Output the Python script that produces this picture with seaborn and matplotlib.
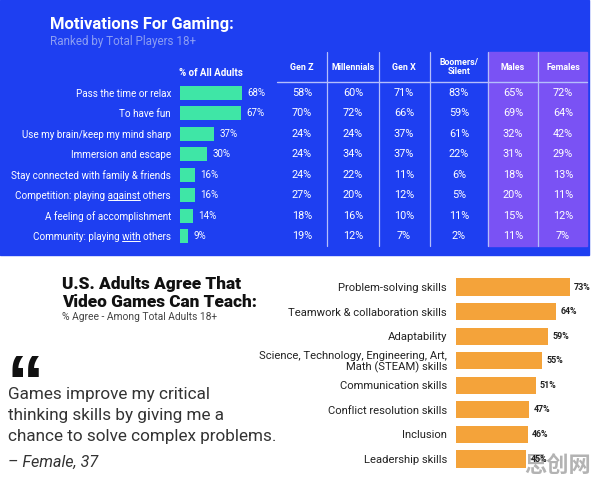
import matplotlib
matplotlib.use("Agg")
import matplotlib.pyplot as plt
from matplotlib.patches import Rectangle
import seaborn as sns
import pandas as pd

# ---------------- data ----------------
motivations = ["Pass the time or relax", "To have fun", "Use my brain/keep my mind sharp",
               "Immersion and escape", "Stay connected with family & friends",
               "Competition: playing against others", "A feeling of accomplishment",
               "Community: playing with others"]
underlined = {"Competition: playing against others": "Competition: playing against",
              "Community: playing with others": "Community: playing with"}
all_adults = [68, 67, 37, 30, 16, 16, 14, 9]
columns = ["Gen Z", "Millennials", "Gen X", "Boomers/\nSilent", "Males", "Females"]
gen_z = [58, 70, 24, 24, 24, 27, 18, 19]
millennials = [60, 72, 24, 34, 22, 20, 16, 12]
gen_x = [71, 66, 37, 37, 11, 12, 10, 7]
boomers = [83, 59, 61, 22, 6, 5, 11, 2]
males = [65, 69, 32, 31, 18, 20, 15, 11]
females = [72, 64, 42, 29, 13, 11, 12, 7]

skills = ["Problem-solving skills", "Teamwork & collaboration skills", "Adaptability",
          "Science, Technology, Engineering, Art,\nMath (STEAM) skills", "Communication skills",
          "Conflict resolution skills", "Inclusion", "Leadership skills"]
agree = [73, 64, 59, 55, 51, 47, 46, 45]

# ---------------- style ----------------
sns.set_theme(style="white")
plt.rcParams["font.family"] = ["Roboto", "DejaVu Sans"]

BLUE = "#1e3ff1"
PURPLE = "#7a52f4"
MINT = "#3fe6a6"
ORANGE = "#f4a33a"
LINE = "#b4befc"
SUB = "#8c9ef3"

W, H = 596, 486
fig = plt.figure(figsize=(W / 100, H / 100), dpi=100)
fig.patch.set_facecolor("white")


def ax_px(x0, y0, x1, y1):
    return fig.add_axes([x0 / W, 1 - y1 / H, (x1 - x0) / W, (y1 - y0) / H])


bg = ax_px(0, 0, W, H)
bg.set_xlim(0, W)
bg.set_ylim(H, 0)
bg.axis("off")

# top panel background
bg.add_patch(Rectangle((0, 0), 589, 255, color=BLUE, zorder=0))
bg.add_patch(Rectangle((488, 52), 99, 194, color=PURPLE, zorder=1))
bg.plot([277, 587], [82, 82], color=LINE, lw=1.0, zorder=2)
for xv in [327, 379, 430, 488, 538]:
    bg.plot([xv, xv], [52, 246], color=LINE, lw=0.9, zorder=2)

bg.text(50, 25, "Motivations For Gaming:", color="white", fontsize=12,
        fontweight="bold", va="center", ha="left")
bg.text(50, 42, "Ranked by Total Players 18+", color=SUB, fontsize=8.4,
        va="center", ha="left")
bg.text(211, 73, "% of All Adults", color="white", fontsize=7,
        fontweight="bold", va="center", ha="center")

# bottom panel text
bg.text(62, 293, "U.S. Adults Agree That\nVideo Games Can Teach:", color="#111111",
        fontsize=12.4, fontweight="heavy", va="center", ha="left", linespacing=1.15)
bg.text(62, 317, "% Agree - Among Total Adults 18+", color="#444444", fontsize=7.4,
        va="center", ha="left")
bg.text(6, 407, "\u201c", color="#111111", fontsize=54, fontweight="bold",
        va="baseline", ha="left", family="Liberation Sans")
bg.text(8, 415, "Games improve my critical\nthinking skills by giving me a\nchance to solve complex problems.",
        color="#333333", fontsize=12.3, va="center", ha="left", linespacing=1.5)
bg.text(8, 462, "\u2013 Female, 37", color="#333333", fontsize=11.6, style="italic",
        va="center", ha="left")

# ---------------- top bar chart ----------------
step1 = (236 - 93) / 7
ax1 = ax_px(180, 93 - step1 / 2, 290, 236 + step1 / 2)
df1 = pd.DataFrame({"m": motivations, "v": all_adults})
sns.barplot(data=df1, x="v", y="m", color=MINT, width=0.68, ax=ax1, saturation=1,
            linewidth=0, edgecolor="none")
ax1.set_xlim(0, 110 / 0.91)
ax1.set_ylim(7.5, -0.5)
ax1.set_facecolor("none")
for s in ax1.spines.values():
    s.set_visible(False)
ax1.set_xticks([])
ax1.set_xlabel("")
ax1.set_ylabel("")
ax1.tick_params(axis="y", length=0, pad=6.5, colors="white", labelsize=7.1)
ax1.bar_label(ax1.containers[0], labels=[f"{v}%" for v in all_adults], padding=4,
              color="white", fontsize=7)

# ---------------- table ----------------
top_row = -0.5 - (93 - step1 / 2 - 52) / step1
ax2 = ax_px(277, 52, 590, 236 + step1 / 2)
ax2.set_xlim(277, 590)
ax2.set_ylim(7.5, top_row)
ax2.axis("off")
col_x = [302, 353, 404, 459, 513, 563]
header_y = -0.5 - (93 - step1 / 2 - 67) / step1
for cx, name in zip(col_x, columns):
    ax2.text(cx, header_y, name, color="white", fontsize=6.4, fontweight="bold",
             ha="center", va="center", linespacing=1.05)
for cx, vals in zip(col_x, [gen_z, millennials, gen_x, boomers, males, females]):
    for i, v in enumerate(vals):
        ax2.text(cx, i, f"{v}%", color="white", fontsize=7.8, ha="center", va="center")

# ---------------- bottom bar chart ----------------
step3 = (459 - 287) / 7
ax3 = ax_px(456, 287 - step3 / 2, 586, 459 + step3 / 2)
df3 = pd.DataFrame({"s": skills, "v": agree})
sns.barplot(data=df3, x="v", y="s", color=ORANGE, width=0.7, ax=ax3, saturation=1,
            linewidth=0, edgecolor="none")
ax3.set_xlim(0, 130 / 1.562)
ax3.set_ylim(7.5, -0.5)
ax3.set_facecolor("none")
for s in ax3.spines.values():
    s.set_visible(False)
ax3.set_xticks([])
ax3.set_xlabel("")
ax3.set_ylabel("")
ax3.tick_params(axis="y", length=0, pad=6.5, colors="#222222", labelsize=8.1)
for lab in ax3.get_yticklabels():
    lab.set_multialignment("right")
    lab.set_linespacing(1.0)
ax3.bar_label(ax3.containers[0], labels=[f"{v}%" for v in agree], padding=3,
              color="#222222", fontsize=6.4, fontweight="bold")

# watermark
bg.text(558, 465, "思创网", color="#9a9a9a", alpha=0.75, fontsize=16, fontweight="bold",
        ha="center", va="center", family=["Noto Sans CJK SC", "DejaVu Sans"], zorder=10)

# underline the emphasised words in two motivation labels
fig.canvas.draw()
renderer = fig.canvas.get_renderer()


def text_width(s, fp):
    t = fig.text(0, 0, s, fontproperties=fp)
    w = t.get_window_extent(renderer).width
    t.remove()
    return w


for lab in ax1.get_yticklabels():
    txt = lab.get_text()
    if txt in underlined:
        fp = lab.get_fontproperties()
        upto = underlined[txt]
        word = upto.split(" ")[-1]
        bb = lab.get_window_extent(renderer)
        x_end = bb.x0 + text_width(upto, fp)
        x_start = x_end - text_width(word, fp)
        y_line = H - (bb.y0 + 1.2)
        bg.plot([x_start, x_end], [y_line, y_line], color="white", lw=0.7, zorder=5)

fig.savefig("out.png", dpi=100, facecolor=fig.get_facecolor())
